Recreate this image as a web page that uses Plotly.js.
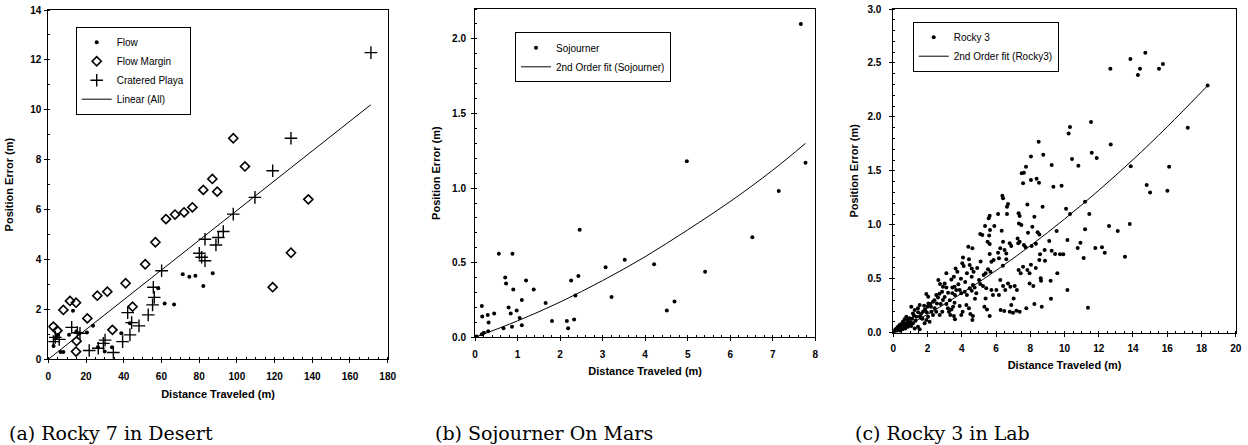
<!DOCTYPE html>
<html>
<head>
<meta charset="utf-8">
<script src="https://cdn.plot.ly/plotly-3.0.1.min.js"></script>
<style>html,body{margin:0;padding:0;background:#fff;}#chart{width:1248px;height:445px;}</style>
</head>
<body>
<div id="chart"></div>
<script>
// ---------- Panel (a): Rocky 7 in Desert ----------
const flowX = [2.8, 4.2, 5.1, 6.5, 8.0, 11.0, 13.1, 14.9, 16.6, 20.5, 23.7, 26.3, 29.9, 33.8, 38.7, 43.3, 58.3, 61.7, 66.7, 71.3, 74.8, 78.0, 82.2, 87.2];
const flowY = [0.53, 0.87, 0.98, 0.29, 0.29, 0.98, 1.95, 1.11, 1.04, 1.07, 1.34, 0.48, 0.31, 0.48, 1.04, 1.44, 2.85, 2.24, 2.20, 3.41, 3.31, 3.35, 2.94, 3.45];
const marginX = [2.7, 4.8, 8.0, 11.5, 14.7, 15.0, 14.7, 20.7, 26.0, 31.3, 34.0, 41.0, 44.7, 51.4, 56.8, 62.4, 67.2, 72.0, 76.4, 82.2, 87.0, 89.6, 98.1, 104.3, 119.0, 128.7, 137.9];
const marginY = [1.31, 1.15, 1.98, 2.34, 2.27, 0.73, 0.31, 1.64, 2.55, 2.71, 1.18, 3.05, 2.11, 3.81, 4.69, 5.62, 5.80, 5.89, 6.09, 6.79, 7.23, 6.72, 8.86, 7.73, 2.89, 4.27, 6.41];
const playaX = [2.7, 3.7, 5.8, 12.4, 15.4, 16.8, 21.7, 26.5, 29.2, 30.1, 34.5, 39.4, 42.1, 43.3, 44.2, 48.1, 53.0, 55.3, 56.2, 55.7, 60.1, 80.1, 81.3, 83.1, 83.1, 88.9, 90.2, 92.8, 98.1, 109.6, 119.0, 128.7, 171.1];
const playaY = [0.71, 0.88, 0.80, 1.28, 1.07, 1.04, 0.35, 0.44, 0.64, 0.77, 0.27, 0.71, 1.87, 0.98, 1.47, 1.34, 1.78, 2.18, 2.48, 2.89, 3.55, 4.25, 4.09, 3.95, 4.81, 4.58, 4.88, 5.12, 5.82, 6.49, 7.56, 8.86, 12.29];
const linearX = [0, 171];
const linearY = [0, 10.2];

// ---------- Panel (b): Sojourner On Mars ----------
const sojX = [7.66, 7.77, 7.14, 6.52, 5.41, 4.98, 4.69, 4.51, 4.21, 3.52, 3.21, 3.07, 2.46, 2.43, 2.36, 2.33, 2.26, 2.16, 2.19, 1.81, 1.66, 1.38, 1.20, 1.10, 1.10, 1.05, 0.98, 0.90, 0.88, 0.87, 0.84, 0.79, 0.73, 0.71, 0.67, 0.56, 0.45, 0.32, 0.30, 0.17, 0.16, 0.31, 0.16, 0.21, 0.04];
const sojY = [2.10, 1.17, 0.98, 0.67, 0.44, 1.18, 0.24, 0.18, 0.49, 0.52, 0.27, 0.47, 0.72, 0.41, 0.28, 0.12, 0.38, 0.11, 0.06, 0.11, 0.23, 0.32, 0.38, 0.08, 0.25, 0.13, 0.18, 0.32, 0.56, 0.07, 0.16, 0.20, 0.36, 0.40, 0.06, 0.56, 0.16, 0.10, 0.15, 0.14, 0.21, 0.04, 0.02, 0.03, 0.005];
const sojFitX = [0, 1, 2, 3, 4, 5, 6, 7, 7.77];
const sojFitY = [0, 0.11, 0.236, 0.38, 0.54, 0.72, 0.91, 1.12, 1.30];

// ---------- Panel (c): Rocky 3 in Lab ----------
const rockyX = [14.72,13.85,12.68,14.41,14.29,15.52,15.75,18.36,17.20,11.55,10.32,10.24,8.49,12.70,11.59,11.88,10.44,8.76,8.04,9.25,10.81,13.87,16.11,8.37,8.04,8.51,9.83,9.35,14.80,15.0,16.01,8.72,10.09,11.2,10.32,11.45,8.24,8.12,9.54,11.20,12.60,13.11,13.81,8.43,8.53,9.11,8.33,8.08,10.17,10.93,10.77,11.80,12.19,12.35,11.12,13.53,8.84,9.25,9.45,9.74,9.93,8.57,8.53,8.86,8.32,8.04,9.58,8.61,8.63,9.19,8.18,10.17,9.21,8.24,8.67,11.37,
7.58,6.37,6.41,6.70,6.64,7.83,5.63,5.57,6.12,6.64,7.32,7.38,7.34,7.48,5.36,5.65,6.33,5.08,5.20,7.87,7.26,7.38,7.30,7.63,7.73,6.80,6.89,6.50,6.60,6.25,6.41,5.51,5.63,5.63,6.12,6.17,5.86,5.73,5.53,5.67,5.39,5.28,4.38,4.62,4.42,4.46,4.58,4.69,4.58,4.07,4.03,4.11,3.64,3.74,3.54,3.39,3.10,2.63,2.73,3.00,2.90,3.10,3.58,3.68,3.45,3.88,3.97,4.17,4.30,4.46,4.58,4.65,4.75,4.85,4.77,5.01,5.08,5.24,5.43,5.39,5.73,5.82,6.02,6.17,6.25,6.41,6.54,6.70,6.84,7.09,7.22,7.03,6.89,6.80,6.99,7.32,7.44,7.58,7.83,7.96,7.96,7.77,7.19,7.38,6.27,6.48,5.63,5.32,5.47,4.62,4.65,4.50,4.27,4.42,4.05,3.97,3.88,3.58,3.49,3.39,3.54,3.60,3.25,3.33,3.10,3.19,2.90,2.77,2.86,2.71,2.51,2.61,2.32,2.16,2.42,2.51,2.22,2.32,1.93,2.04,1.99,1.85,1.73,1.62,2.03,1.93,1.54,1.44,1.64,1.34,1.25,1.15,1.05,0.95,0.86,0.76,0.66,0.56,0.47,0.37,0.27,0.18,0.08,0.86,0.70,0.53,0.41,1.15,1.05,1.25,1.44,1.54,0.92,0.80,0.60,0.21,0.33,1.83,2.12,0.04,7.50,7.63,7.75,
0.30,0.45,0.60,0.70,0.85,1.00,1.10,1.20,1.30,1.45,1.55,1.70,1.80,1.95,2.05,2.20,2.40,2.55,2.70,2.85,3.00,3.20,3.30,3.45,3.60,3.80,3.95,4.20,4.30,4.90,5.10,5.60,5.90,6.40,6.60];
const rockyY = [2.595,2.536,2.447,2.447,2.388,2.447,2.49,2.29,1.90,1.953,1.906,1.847,1.770,1.745,1.668,1.619,1.61,1.65,1.634,1.554,1.548,1.542,1.538,1.427,1.415,1.39,1.362,1.353,1.369,1.30,1.316,1.168,1.149,1.214,1.10,1.10,1.075,0.982,0.942,0.958,0.99,0.942,1.007,0.93,0.911,0.85,0.825,0.803,0.859,0.834,0.785,0.785,0.791,0.741,0.692,0.704,0.766,0.76,0.729,0.726,0.726,0.726,0.673,0.667,0.60,0.63,0.55,0.504,0.482,0.482,0.432,0.395,0.315,0.266,0.241,0.232,
1.384,1.27,1.245,1.192,1.168,1.189,1.084,1.06,1.10,1.10,1.106,1.081,1.013,0.998,0.989,0.951,0.945,0.914,0.905,0.927,0.874,0.843,0.828,0.812,0.791,0.828,0.803,0.766,0.735,0.782,0.843,0.843,0.822,0.729,0.741,0.689,0.673,0.658,0.587,0.565,0.55,0.534,0.797,0.782,0.68,0.627,0.596,0.565,0.519,0.698,0.643,0.618,0.596,0.565,0.519,0.494,0.55,0.488,0.451,0.457,0.426,0.42,0.426,0.395,0.365,0.395,0.365,0.38,0.349,0.411,0.389,0.442,0.42,0.365,0.315,0.488,0.451,0.432,0.411,0.318,0.395,0.349,0.395,0.349,0.488,0.432,0.395,0.457,0.426,0.432,0.395,0.318,0.256,0.195,0.185,0.581,0.55,0.612,0.581,0.55,0.457,0.226,0.204,0.195,0.21,0.20,0.155,0.241,0.216,0.117,0.155,0.173,0.256,0.226,0.195,0.164,0.247,0.278,0.241,0.216,0.155,0.124,0.195,0.164,0.266,0.226,0.303,0.266,0.195,0.164,0.349,0.327,0.287,0.266,0.226,0.195,0.195,0.164,0.358,0.334,0.241,0.216,0.195,0.173,0.148,0.117,0.256,0.226,0.133,0.148,0.21,0.179,0.241,0.133,0.102,0.148,0.124,0.102,0.08,0.071,0.056,0.04,0.025,0.056,0.04,0.031,0.019,0.087,0.062,0.04,0.056,0.031,0.08,0.093,0.056,0.019,0.031,0.087,0.102,0.009,1.477,1.483,1.538,
0.05,0.06,0.09,0.07,0.12,0.10,0.13,0.16,0.11,0.19,0.15,0.13,0.25,0.19,0.27,0.24,0.30,0.27,0.36,0.38,0.33,0.37,0.30,0.42,0.35,0.45,0.50,0.47,0.55,0.60,0.66,0.90,0.99,0.62,0.68];
const rockyFitX = [0, 2, 4, 6, 8, 10, 12, 14, 16, 18.36];
const rockyFitY = [0, 0.17, 0.365, 0.576, 0.805, 1.053, 1.319, 1.604, 1.908, 2.29];

const captions = ['(a) Rocky 7 in Desert', '(b) Sojourner On Mars', '(c) Rocky 3 in Lab'];

// ---------- styling ----------
const W = 1248, H = 445;
const SANS = 'Liberation Sans, Arial, sans-serif';
const tickFont = {family: SANS, size: 10, color: '#000', weight: 700};
const titleFont = {family: SANS, size: 11, color: '#000', weight: 700};
const legFont = {family: SANS, size: 10, color: '#000'};

function px2x(a, b) { return [a / W, b / W]; }
function px2y(top, bottom) { return [(H - bottom) / H, (H - top) / H]; }

function axis(dom, range, dtick, minorDtick, fmt, title, standoff, labelOff) {
  return {
    domain: dom, range: range, dtick: dtick, tick0: 0, tickformat: fmt,
    showgrid: false, zeroline: false, showline: true, linecolor: '#000', linewidth: 1, mirror: true,
    ticks: 'outside', ticklen: 3, tickwidth: 1, tickcolor: '#000',
    minor: {dtick: minorDtick, ticks: 'inside', ticklen: 2, tickcolor: '#000', tickwidth: 1, showgrid: false},
    tickfont: tickFont, ticklabelstandoff: labelOff,
    title: {text: title, font: titleFont, standoff: standoff},
    fixedrange: true, automargin: false
  };
}

const dot = {symbol: 'circle', size: 4, color: '#000'};

const traces = [
  {x: flowX, y: flowY, type: 'scatter', mode: 'markers', name: 'Flow', marker: dot, xaxis: 'x', yaxis: 'y', legend: 'legend'},
  {x: marginX, y: marginY, type: 'scatter', mode: 'markers', name: 'Flow Margin', marker: {symbol: 'diamond-open', size: 7, color: '#000', line: {width: 1.6, color: '#000'}}, xaxis: 'x', yaxis: 'y', legend: 'legend'},
  {x: playaX, y: playaY, type: 'scatter', mode: 'markers', name: 'Cratered Playa', marker: {symbol: 'cross-thin-open', size: 9, color: '#000', line: {width: 1.4, color: '#000'}}, xaxis: 'x', yaxis: 'y', legend: 'legend'},
  {x: linearX, y: linearY, type: 'scatter', mode: 'lines', name: 'Linear (All)', line: {color: '#000', width: 1}, xaxis: 'x', yaxis: 'y', legend: 'legend'},

  {x: sojX, y: sojY, type: 'scatter', mode: 'markers', name: 'Sojourner', marker: dot, xaxis: 'x2', yaxis: 'y2', legend: 'legend2'},
  {x: sojFitX, y: sojFitY, type: 'scatter', mode: 'lines', name: '2nd Order fit (Sojourner)', line: {color: '#000', width: 1, shape: 'spline'}, xaxis: 'x2', yaxis: 'y2', legend: 'legend2'},

  {x: rockyX, y: rockyY, type: 'scatter', mode: 'markers', name: 'Rocky 3', marker: {symbol: 'circle', size: 4, color: '#000'}, xaxis: 'x3', yaxis: 'y3', legend: 'legend3'},
  {x: rockyFitX, y: rockyFitY, type: 'scatter', mode: 'lines', name: '2nd Order fit (Rocky3)', line: {color: '#000', width: 1, shape: 'spline'}, xaxis: 'x3', yaxis: 'y3', legend: 'legend3'}
];

function legendBox(xpx, ypx) {
  return {x: xpx / W, y: (H - ypx) / H, xanchor: 'left', yanchor: 'top', bgcolor: '#fff', bordercolor: '#000', borderwidth: 1,
          font: legFont, itemwidth: 30, tracegroupgap: 0};
}

const capFont = {family: 'DejaVu Serif, serif', size: 19, color: '#000'};

const layout = {
  width: W, height: H, margin: {l: 0, r: 0, t: 0, b: 0}, paper_bgcolor: '#fff', plot_bgcolor: '#fff',
  showlegend: true,
  xaxis: axis(px2x(48.3, 387.7), [0, 180], 20, 5, 'd', 'Distance Traveled (m)', 9, 5),
  yaxis: axis(px2y(10, 359.3), [0, 14], 2, 1, 'd', 'Position Error (m)', 14, 1),
  xaxis2: axis(px2x(475, 815.3), [0, 8], 1, 0.2, 'd', 'Distance Traveled (m)', 8, 5),
  yaxis2: axis(px2y(9, 337.3), [0, 2.2], 0.5, 0.1, '.1f', 'Position Error (m)', 9, 3),
  xaxis3: axis(px2x(893.3, 1235.7), [0, 20], 2, 0.5, 'd', 'Distance Traveled (m)', 8, 3),
  yaxis3: axis(px2y(9, 332.7), [0, 3], 0.5, 0.1, '.1f', 'Position Error (m)', 6, 6),
  legend: legendBox(75.7, 26.7),
  legend2: legendBox(515, 32.3),
  legend3: legendBox(912.7, 21.7),
  annotations: [
    {text: captions[0], x: 7 / W, y: (H - 433) / H, xref: 'paper', yref: 'paper', xanchor: 'left', yanchor: 'middle', showarrow: false, font: capFont},
    {text: captions[1], x: 433 / W, y: (H - 433) / H, xref: 'paper', yref: 'paper', xanchor: 'left', yanchor: 'middle', showarrow: false, font: capFont},
    {text: captions[2], x: 853 / W, y: (H - 433) / H, xref: 'paper', yref: 'paper', xanchor: 'left', yanchor: 'middle', showarrow: false, font: capFont}
  ]
};
layout.xaxis2.anchor = 'y2'; layout.yaxis2.anchor = 'x2';
layout.xaxis3.anchor = 'y3'; layout.yaxis3.anchor = 'x3';

Plotly.newPlot('chart', traces, layout, {staticPlot: true, displayModeBar: false});
</script>
</body>
</html>
